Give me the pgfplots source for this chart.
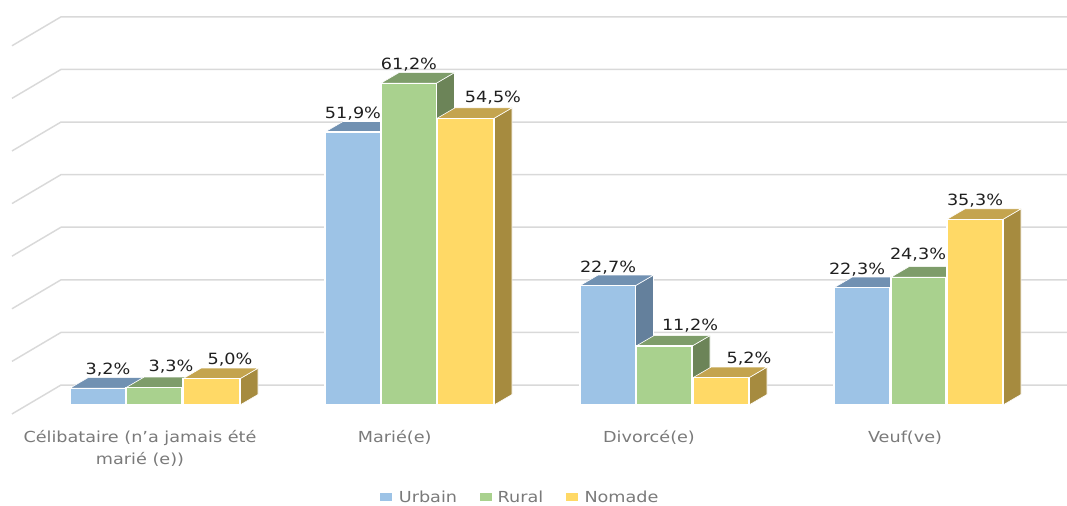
\documentclass[border=0pt]{standalone}
\usepackage{pgfplots}
\pgfplotsset{compat=1.18}
\usepackage{fontspec}
\setmainfont{DejaVu Sans}

\definecolor{bluefront}{HTML}{9DC3E6}
\definecolor{bluetop}{HTML}{7191B2}
\definecolor{blueside}{HTML}{64809C}
\definecolor{greenfront}{HTML}{A9D18E}
\definecolor{greentop}{HTML}{7E9D6A}
\definecolor{greenside}{HTML}{6C8458}
\definecolor{yellowfront}{HTML}{FFD966}
\definecolor{yellowtop}{HTML}{C4A44E}
\definecolor{yellowside}{HTML}{A68B3F}
\definecolor{gridc}{HTML}{D9D9D9}

\tikzset{
  lab/.style={font=\fontsize{11.6pt}{13pt}\selectfont, text=black!88, xscale=1.14, inner sep=0pt},
  cat/.style={font=\fontsize{11.4pt}{13pt}\selectfont, text=black!52, xscale=1.16, inner sep=0pt},
}

% x in reference pixels, y in percent; depth of a bar is 18 px and 2 %
\newcommand{\tdbar}[4]{%
  \pgfmathsetmacro{\xa}{#1}\pgfmathsetmacro{\xb}{#2}%
  \pgfmathsetmacro{\xc}{#2+18}\pgfmathsetmacro{\xd}{#1+18}\pgfmathsetmacro{\vb}{#3+2}%
  \addplot[fill=#4side, draw=white, line width=0.45pt] coordinates {(\xb,0) (\xc,2) (\xc,\vb) (\xb,#3)} --cycle;
  \addplot[fill=#4top, draw=white, line width=0.45pt] coordinates {(\xa,#3) (\xd,\vb) (\xc,\vb) (\xb,#3)} --cycle;
  \addplot[fill=#4front, draw=white, line width=0.9pt] coordinates {(\xa,0) (\xa,#3) (\xb,#3) (\xb,0)} --cycle;
}
\newcommand{\wall}[2]{%
  \addplot[gridc, line width=1.1pt] coordinates {(12,#1) (61,#2) (1067,#2)};
}

\begin{document}
\begin{tikzpicture}
\path[use as bounding box] (0,0) rectangle (800.25pt,379.5pt);
\begin{axis}[
  at={(0,0)}, anchor=south west,
  scale only axis, width=800.25pt, height=379.5pt,
  xmin=0, xmax=1067, ymin=-19.2, ymax=77,
  hide axis, clip=false,
]
\wall{-1.7}{3.8}
\wall{8.3}{13.8}
\wall{18.3}{23.8}
\wall{28.3}{33.8}
\wall{38.3}{43.8}
\wall{48.3}{53.8}
\wall{58.3}{63.8}
\wall{68.3}{73.8}

\tdbar{70}{125.5}{3.2}{blue}
\tdbar{126}{182}{3.3}{green}
\tdbar{183}{240}{5.0}{yellow}

\tdbar{325}{380.5}{51.9}{blue}
\tdbar{381}{436.5}{61.2}{green}
\tdbar{437}{494}{54.5}{yellow}

\tdbar{580}{635.5}{22.7}{blue}
\tdbar{636}{692}{11.2}{green}
\tdbar{693}{749}{5.2}{yellow}

\tdbar{834}{890}{22.3}{blue}
\tdbar{891}{946}{24.3}{green}
\tdbar{947}{1003}{35.3}{yellow}

% legend swatches
\addplot[fill=bluefront, draw=none] coordinates {(380,-18.2) (392,-18.2) (392,-16.8) (380,-16.8)} --cycle;
\addplot[fill=greenfront, draw=none] coordinates {(480,-18.2) (492,-18.2) (492,-16.8) (480,-16.8)} --cycle;
\addplot[fill=yellowfront, draw=none] coordinates {(566,-18.2) (578,-18.2) (578,-16.8) (566,-16.8)} --cycle;

\node[lab] at (axis cs:108,6.65) {3,2\%};
\node[lab] at (axis cs:171,7.2) {3,3\%};
\node[lab] at (axis cs:230,8.55) {5,0\%};
\node[lab] at (axis cs:353,55.3) {51,9\%};
\node[lab] at (axis cs:409,64.8) {61,2\%};
\node[lab] at (axis cs:493,58.4) {54,5\%};
\node[lab] at (axis cs:608,26.2) {22,7\%};
\node[lab] at (axis cs:690,15.0) {11,2\%};
\node[lab] at (axis cs:749,8.75) {5,2\%};
\node[lab] at (axis cs:857,25.7) {22,3\%};
\node[lab] at (axis cs:918,28.5) {24,3\%};
\node[lab] at (axis cs:975,38.8) {35,3\%};

\node[cat] at (axis cs:140,-6.2) {Célibataire (n'a jamais été};
\node[cat] at (axis cs:140,-10.3) {marié (e))};
\node[cat] at (axis cs:394.7,-6.2) {Marié(e)};
\node[cat] at (axis cs:649,-6.2) {Divorcé(e)};
\node[cat] at (axis cs:905,-6.2) {Veuf(ve)};

\node[cat] at (axis cs:428,-17.5) {Urbain};
\node[cat] at (axis cs:520.5,-17.5) {Rural};
\node[cat] at (axis cs:621.5,-17.5) {Nomade};
\end{axis}
\end{tikzpicture}
\end{document}
